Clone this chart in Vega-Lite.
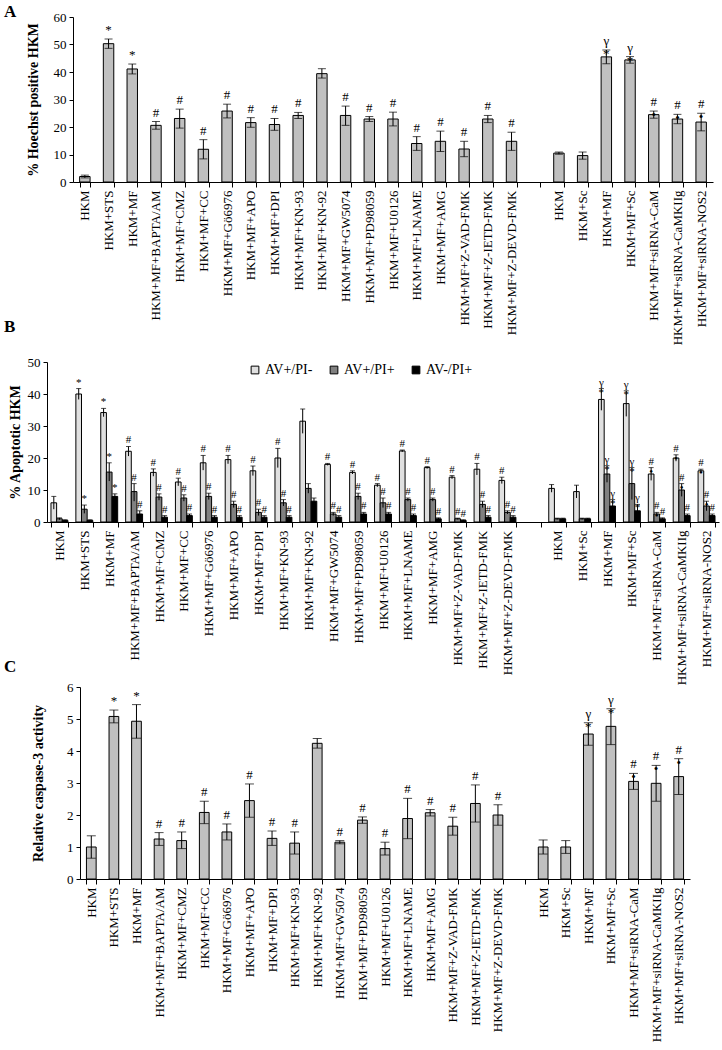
{
  "$schema": "https://vega.github.io/schema/vega-lite/v6.json",
  "padding": {"left": 3, "top": 3, "right": 2, "bottom": 2},
  "background": "white",
  "config": {
    "font": "Liberation Serif",
    "view": {"stroke": null},
    "axis": {"labelFont": "Liberation Serif", "titleFont": "Liberation Serif", "domainColor": "black", "tickColor": "black", "labelColor": "black", "titleColor": "black", "grid": false},
    "axisX": {"labelAngle": 270, "labelFontSize": 13, "tickBand": "extent", "tickSize": 5, "title": null, "labelPadding": 3, "labelOverlap": false},
    "axisY": {"labelFontSize": 13, "tickSize": 4, "titleFontSize": 14, "titleFontWeight": "bold", "labelPadding": 3, "labelOverlap": false},
    "title": {"font": "Liberation Serif", "fontSize": 17, "fontWeight": "bold", "anchor": "start", "frame": "group", "color": "black"}
  },
  "datasets": {
    "a": [
      {"c": "HKM", "v": 2, "lo": 1.5, "hi": 2.5, "s": ""},
      {"c": "HKM+STS", "v": 50.3, "lo": 48.6, "hi": 52.0, "s": "*"},
      {"c": "HKM+MF", "v": 41.1, "lo": 39.3, "hi": 42.9, "s": "*"},
      {"c": "HKM+MF+BAPTA/AM", "v": 20.6, "lo": 19.2, "hi": 22.0, "s": "#"},
      {"c": "HKM+MF+CMZ", "v": 23.1, "lo": 19.6, "hi": 26.5, "s": "#"},
      {"c": "HKM+MF+CC", "v": 11.9, "lo": 8.4, "hi": 15.4, "s": "#"},
      {"c": "HKM+MF+Gö6976", "v": 25.8, "lo": 23.3, "hi": 28.3, "s": "#"},
      {"c": "HKM+MF+APO", "v": 21.6, "lo": 19.9, "hi": 23.4, "s": "#"},
      {"c": "HKM+MF+DPI", "v": 20.9, "lo": 18.8, "hi": 23.1, "s": "#"},
      {"c": "HKM+MF+KN-93", "v": 24.2, "lo": 23.1, "hi": 25.3, "s": "#"},
      {"c": "HKM+MF+KN-92", "v": 39.4, "lo": 37.8, "hi": 41.2, "s": ""},
      {"c": "HKM+MF+GW5074", "v": 24.2, "lo": 20.6, "hi": 27.6, "s": "#"},
      {"c": "HKM+MF+PD98059", "v": 22.9, "lo": 22.0, "hi": 23.8, "s": "#"},
      {"c": "HKM+MF+U0126", "v": 22.9, "lo": 20.4, "hi": 25.4, "s": "#"},
      {"c": "HKM+MF+LNAME", "v": 14.0, "lo": 11.5, "hi": 16.5, "s": "#"},
      {"c": "HKM+MF+AMG", "v": 14.8, "lo": 11.1, "hi": 18.5, "s": "#"},
      {"c": "HKM+MF+Z-VAD-FMK", "v": 12.0, "lo": 9.2, "hi": 14.8, "s": "#"},
      {"c": "HKM+MF+Z-IETD-FMK", "v": 22.9, "lo": 21.6, "hi": 24.2, "s": "#"},
      {"c": "HKM+MF+Z-DEVD-FMK", "v": 14.8, "lo": 11.5, "hi": 18.1, "s": "#"},
      {"c": "HKM~2", "v": 10.5, "lo": 10.1, "hi": 10.9, "s": ""},
      {"c": "HKM+Sc", "v": 9.6, "lo": 8.3, "hi": 10.9, "s": ""},
      {"c": "HKM+MF~2", "v": 45.5, "lo": 43.0, "hi": 48.0, "s": "γ\n*"},
      {"c": "HKM+MF+Sc", "v": 44.4, "lo": 43.2, "hi": 45.6, "s": "γ\n*"},
      {"c": "HKM+MF+siRNA-CaM", "v": 24.5, "lo": 23.2, "hi": 25.8, "s": "#\n•"},
      {"c": "HKM+MF+siRNA-CaMKIIg", "v": 22.9, "lo": 21.2, "hi": 24.6, "s": "#\n•"},
      {"c": "HKM+MF+siRNA-NOS2", "v": 21.8, "lo": 18.6, "hi": 25.0, "s": "#\n•"}
    ],
    "b": [
      {"c": "HKM", "g": "AV+/PI-", "v": 6, "lo": 4, "hi": 8, "s": ""},
      {"c": "HKM", "g": "AV+/PI+", "v": 1, "lo": 0.7, "hi": 1.3, "s": ""},
      {"c": "HKM", "g": "AV-/PI+", "v": 0.5, "lo": 0.3, "hi": 0.7, "s": ""},
      {"c": "HKM+STS", "g": "AV+/PI-", "v": 40, "lo": 38.3, "hi": 41.7, "s": "*"},
      {"c": "HKM+STS", "g": "AV+/PI+", "v": 4, "lo": 2.7, "hi": 5.3, "s": "*"},
      {"c": "HKM+STS", "g": "AV-/PI+", "v": 0.5, "lo": 0.3, "hi": 0.7, "s": ""},
      {"c": "HKM+MF", "g": "AV+/PI-", "v": 34.2, "lo": 32.9, "hi": 35.5, "s": "*"},
      {"c": "HKM+MF", "g": "AV+/PI+", "v": 15.6, "lo": 12.8, "hi": 18.5, "s": "*"},
      {"c": "HKM+MF", "g": "AV-/PI+", "v": 8, "lo": 7.2, "hi": 8.8, "s": "*"},
      {"c": "HKM+MF+BAPTA/AM", "g": "AV+/PI-", "v": 22.1, "lo": 20.6, "hi": 23.6, "s": "#"},
      {"c": "HKM+MF+BAPTA/AM", "g": "AV+/PI+", "v": 9.5, "lo": 6.5, "hi": 12, "s": "#"},
      {"c": "HKM+MF+BAPTA/AM", "g": "AV-/PI+", "v": 2.5, "lo": 1.5, "hi": 3.5, "s": "#"},
      {"c": "HKM+MF+CMZ", "g": "AV+/PI-", "v": 15.5, "lo": 14.3, "hi": 16.6, "s": "#"},
      {"c": "HKM+MF+CMZ", "g": "AV+/PI+", "v": 7.8, "lo": 6.8, "hi": 8.8, "s": "#"},
      {"c": "HKM+MF+CMZ", "g": "AV-/PI+", "v": 1.5, "lo": 1, "hi": 2, "s": "#"},
      {"c": "HKM+MF+CC", "g": "AV+/PI-", "v": 12.5, "lo": 11.3, "hi": 13.7, "s": "#"},
      {"c": "HKM+MF+CC", "g": "AV+/PI+", "v": 7.5, "lo": 6.5, "hi": 8.5, "s": "#"},
      {"c": "HKM+MF+CC", "g": "AV-/PI+", "v": 2, "lo": 1.5, "hi": 2.5, "s": "#"},
      {"c": "HKM+MF+Gö6976", "g": "AV+/PI-", "v": 18.5, "lo": 16.2, "hi": 20.8, "s": "#"},
      {"c": "HKM+MF+Gö6976", "g": "AV+/PI+", "v": 8, "lo": 7, "hi": 9, "s": "#"},
      {"c": "HKM+MF+Gö6976", "g": "AV-/PI+", "v": 1.5, "lo": 1, "hi": 2, "s": "#"},
      {"c": "HKM+MF+APO", "g": "AV+/PI-", "v": 19.5, "lo": 18.2, "hi": 20.8, "s": "#"},
      {"c": "HKM+MF+APO", "g": "AV+/PI+", "v": 5.5, "lo": 4.5, "hi": 6.5, "s": "#"},
      {"c": "HKM+MF+APO", "g": "AV-/PI+", "v": 1.5, "lo": 1, "hi": 2, "s": "#"},
      {"c": "HKM+MF+DPI", "g": "AV+/PI-", "v": 16, "lo": 14.5, "hi": 17.5, "s": "#"},
      {"c": "HKM+MF+DPI", "g": "AV+/PI+", "v": 3, "lo": 2, "hi": 4, "s": "#"},
      {"c": "HKM+MF+DPI", "g": "AV-/PI+", "v": 1.5, "lo": 1, "hi": 2, "s": "#"},
      {"c": "HKM+MF+KN-93", "g": "AV+/PI-", "v": 20, "lo": 17, "hi": 23, "s": "#"},
      {"c": "HKM+MF+KN-93", "g": "AV+/PI+", "v": 6, "lo": 5, "hi": 7, "s": "#"},
      {"c": "HKM+MF+KN-93", "g": "AV-/PI+", "v": 1.5, "lo": 1, "hi": 2, "s": "#"},
      {"c": "HKM+MF+KN-92", "g": "AV+/PI-", "v": 31.5, "lo": 27.7, "hi": 35.3, "s": ""},
      {"c": "HKM+MF+KN-92", "g": "AV+/PI+", "v": 10.5, "lo": 9, "hi": 12, "s": ""},
      {"c": "HKM+MF+KN-92", "g": "AV-/PI+", "v": 6.5, "lo": 5.5, "hi": 7.5, "s": ""},
      {"c": "HKM+MF+GW5074", "g": "AV+/PI-", "v": 18, "lo": 17.7, "hi": 18.3, "s": "#"},
      {"c": "HKM+MF+GW5074", "g": "AV+/PI+", "v": 2.5, "lo": 2, "hi": 3, "s": "#"},
      {"c": "HKM+MF+GW5074", "g": "AV-/PI+", "v": 1.5, "lo": 1, "hi": 2, "s": "#"},
      {"c": "HKM+MF+PD98059", "g": "AV+/PI-", "v": 15.5, "lo": 15, "hi": 16, "s": "#"},
      {"c": "HKM+MF+PD98059", "g": "AV+/PI+", "v": 8, "lo": 7, "hi": 9, "s": "#"},
      {"c": "HKM+MF+PD98059", "g": "AV-/PI+", "v": 2.5, "lo": 2, "hi": 3, "s": "#"},
      {"c": "HKM+MF+U0126", "g": "AV+/PI-", "v": 11.5, "lo": 11, "hi": 12, "s": "#"},
      {"c": "HKM+MF+U0126", "g": "AV+/PI+", "v": 6, "lo": 4.5, "hi": 7.5, "s": "#"},
      {"c": "HKM+MF+U0126", "g": "AV-/PI+", "v": 2.5, "lo": 2, "hi": 3, "s": "#"},
      {"c": "HKM+MF+LNAME", "g": "AV+/PI-", "v": 22.2, "lo": 21.9, "hi": 22.5, "s": "#"},
      {"c": "HKM+MF+LNAME", "g": "AV+/PI+", "v": 7, "lo": 6.5, "hi": 7.5, "s": "#"},
      {"c": "HKM+MF+LNAME", "g": "AV-/PI+", "v": 2, "lo": 1.5, "hi": 2.5, "s": "#"},
      {"c": "HKM+MF+AMG", "g": "AV+/PI-", "v": 17, "lo": 16.7, "hi": 17.3, "s": "#"},
      {"c": "HKM+MF+AMG", "g": "AV+/PI+", "v": 7, "lo": 6.5, "hi": 7.5, "s": "#"},
      {"c": "HKM+MF+AMG", "g": "AV-/PI+", "v": 1, "lo": 0.7, "hi": 1.3, "s": "#"},
      {"c": "HKM+MF+Z-VAD-FMK", "g": "AV+/PI-", "v": 14, "lo": 13.5, "hi": 14.5, "s": "#"},
      {"c": "HKM+MF+Z-VAD-FMK", "g": "AV+/PI+", "v": 1, "lo": 0.8, "hi": 1.2, "s": "#"},
      {"c": "HKM+MF+Z-VAD-FMK", "g": "AV-/PI+", "v": 0.5, "lo": 0.3, "hi": 0.7, "s": "#"},
      {"c": "HKM+MF+Z-IETD-FMK", "g": "AV+/PI-", "v": 16.5, "lo": 14.7, "hi": 18.3, "s": "#"},
      {"c": "HKM+MF+Z-IETD-FMK", "g": "AV+/PI+", "v": 5.5, "lo": 4.5, "hi": 6.5, "s": "#"},
      {"c": "HKM+MF+Z-IETD-FMK", "g": "AV-/PI+", "v": 1.5, "lo": 1, "hi": 2, "s": "#"},
      {"c": "HKM+MF+Z-DEVD-FMK", "g": "AV+/PI-", "v": 13, "lo": 12, "hi": 14, "s": "#"},
      {"c": "HKM+MF+Z-DEVD-FMK", "g": "AV+/PI+", "v": 3, "lo": 2.5, "hi": 3.5, "s": "#"},
      {"c": "HKM+MF+Z-DEVD-FMK", "g": "AV-/PI+", "v": 1.5, "lo": 1, "hi": 2, "s": "#"},
      {"c": "HKM~2", "g": "AV+/PI-", "v": 10.5, "lo": 9.3, "hi": 11.7, "s": ""},
      {"c": "HKM~2", "g": "AV+/PI+", "v": 1, "lo": 0.8, "hi": 1.2, "s": ""},
      {"c": "HKM~2", "g": "AV-/PI+", "v": 1, "lo": 0.8, "hi": 1.2, "s": ""},
      {"c": "HKM+Sc", "g": "AV+/PI-", "v": 9.5, "lo": 7.5, "hi": 11.5, "s": ""},
      {"c": "HKM+Sc", "g": "AV+/PI+", "v": 1, "lo": 0.8, "hi": 1.2, "s": ""},
      {"c": "HKM+Sc", "g": "AV-/PI+", "v": 1, "lo": 0.8, "hi": 1.2, "s": ""},
      {"c": "HKM+MF~2", "g": "AV+/PI-", "v": 38.3, "lo": 34.9, "hi": 41.7, "s": "γ\n*"},
      {"c": "HKM+MF~2", "g": "AV+/PI+", "v": 15, "lo": 12.4, "hi": 17.6, "s": "γ\n*"},
      {"c": "HKM+MF~2", "g": "AV-/PI+", "v": 5, "lo": 3, "hi": 7, "s": "γ\n*"},
      {"c": "HKM+MF+Sc", "g": "AV+/PI-", "v": 37, "lo": 33, "hi": 41, "s": "γ\n*"},
      {"c": "HKM+MF+Sc", "g": "AV+/PI+", "v": 12, "lo": 7, "hi": 17, "s": "γ\n*"},
      {"c": "HKM+MF+Sc", "g": "AV-/PI+", "v": 3.5, "lo": 2, "hi": 5.5, "s": "γ\n*"},
      {"c": "HKM+MF+siRNA-CaM", "g": "AV+/PI-", "v": 15, "lo": 13, "hi": 17, "s": "#\n•"},
      {"c": "HKM+MF+siRNA-CaM", "g": "AV+/PI+", "v": 2.5, "lo": 2, "hi": 3, "s": "#\n•"},
      {"c": "HKM+MF+siRNA-CaM", "g": "AV-/PI+", "v": 1, "lo": 0.7, "hi": 1.3, "s": "#\n•"},
      {"c": "HKM+MF+siRNA-CaMKIIg", "g": "AV+/PI-", "v": 20, "lo": 19, "hi": 21, "s": "#\n•"},
      {"c": "HKM+MF+siRNA-CaMKIIg", "g": "AV+/PI+", "v": 10, "lo": 8, "hi": 12, "s": "#\n•"},
      {"c": "HKM+MF+siRNA-CaMKIIg", "g": "AV-/PI+", "v": 2, "lo": 1.5, "hi": 2.5, "s": "#\n•"},
      {"c": "HKM+MF+siRNA-NOS2", "g": "AV+/PI-", "v": 16, "lo": 15.5, "hi": 16.5, "s": "#\n•"},
      {"c": "HKM+MF+siRNA-NOS2", "g": "AV+/PI+", "v": 5, "lo": 3.5, "hi": 6.5, "s": "#\n•"},
      {"c": "HKM+MF+siRNA-NOS2", "g": "AV-/PI+", "v": 2, "lo": 1.5, "hi": 2.5, "s": "#\n•"}
    ],
    "c": [
      {"c": "HKM", "v": 1.0, "lo": 0.65, "hi": 1.35, "s": ""},
      {"c": "HKM+STS", "v": 5.08, "lo": 4.88, "hi": 5.28, "s": "*"},
      {"c": "HKM+MF", "v": 4.93, "lo": 4.4, "hi": 5.45, "s": "*"},
      {"c": "HKM+MF+BAPTA/AM", "v": 1.25, "lo": 1.05, "hi": 1.45, "s": "#"},
      {"c": "HKM+MF+CMZ", "v": 1.2, "lo": 0.95, "hi": 1.47, "s": "#"},
      {"c": "HKM+MF+CC", "v": 2.08, "lo": 1.73, "hi": 2.43, "s": "#"},
      {"c": "HKM+MF+Gö6976", "v": 1.47, "lo": 1.22, "hi": 1.72, "s": "#"},
      {"c": "HKM+MF+APO", "v": 2.45, "lo": 1.93, "hi": 2.97, "s": "#"},
      {"c": "HKM+MF+DPI", "v": 1.27, "lo": 1.05, "hi": 1.5, "s": "#"},
      {"c": "HKM+MF+KN-93", "v": 1.12, "lo": 0.78, "hi": 1.47, "s": "#"},
      {"c": "HKM+MF+KN-92", "v": 4.24, "lo": 4.09, "hi": 4.39, "s": ""},
      {"c": "HKM+MF+GW5074", "v": 1.15, "lo": 1.1, "hi": 1.2, "s": "#"},
      {"c": "HKM+MF+PD98059", "v": 1.84, "lo": 1.74, "hi": 1.94, "s": "#"},
      {"c": "HKM+MF+U0126", "v": 0.95, "lo": 0.75, "hi": 1.15, "s": "#"},
      {"c": "HKM+MF+LNAME", "v": 1.89, "lo": 1.26, "hi": 2.52, "s": "#"},
      {"c": "HKM+MF+AMG", "v": 2.07, "lo": 1.97, "hi": 2.17, "s": "#"},
      {"c": "HKM+MF+Z-VAD-FMK", "v": 1.65, "lo": 1.37, "hi": 1.93, "s": "#"},
      {"c": "HKM+MF+Z-IETD-FMK", "v": 2.36, "lo": 1.78, "hi": 2.94, "s": "#"},
      {"c": "HKM+MF+Z-DEVD-FMK", "v": 2.0, "lo": 1.68, "hi": 2.32, "s": "#"},
      {"c": "HKM~2", "v": 1.0, "lo": 0.78, "hi": 1.22, "s": ""},
      {"c": "HKM+Sc", "v": 1.0, "lo": 0.8, "hi": 1.2, "s": ""},
      {"c": "HKM+MF~2", "v": 4.53, "lo": 4.18, "hi": 4.88, "s": "γ\n*"},
      {"c": "HKM+MF+Sc", "v": 4.77, "lo": 4.2, "hi": 5.32, "s": "γ\n*"},
      {"c": "HKM+MF+siRNA-CaM", "v": 3.05, "lo": 2.8, "hi": 3.3, "s": "#\n•"},
      {"c": "HKM+MF+siRNA-CaMKIIg", "v": 2.99, "lo": 2.43, "hi": 3.55, "s": "#\n•"},
      {"c": "HKM+MF+siRNA-NOS2", "v": 3.2, "lo": 2.64, "hi": 3.76, "s": "#\n•"}
    ]
  },
  "columns": 1,
  "spacing": -27,
  "resolve": {"legend": {"color": "independent"}},
  "concat": [
    {
      "spacing": 0,
      "hconcat": [
        {"width": 1, "height": 1, "data": {"values": [{}]}, "mark": {"type": "text", "text": ""}, "encoding": {}},
        {
          "title": {"text": "A", "dx": -69, "offset": -10},
          "width": 640,
          "height": 165,
          "data": {"name": "a"},
          "encoding": {
            "x": {"field": "c", "type": "nominal", "sort": null,
              "scale": {"domain": ["HKM","HKM+STS","HKM+MF","HKM+MF+BAPTA/AM","HKM+MF+CMZ","HKM+MF+CC","HKM+MF+Gö6976","HKM+MF+APO","HKM+MF+DPI","HKM+MF+KN-93","HKM+MF+KN-92","HKM+MF+GW5074","HKM+MF+PD98059","HKM+MF+U0126","HKM+MF+LNAME","HKM+MF+AMG","HKM+MF+Z-VAD-FMK","HKM+MF+Z-IETD-FMK","HKM+MF+Z-DEVD-FMK","gap","HKM~2","HKM+Sc","HKM+MF~2","HKM+MF+Sc","HKM+MF+siRNA-CaM","HKM+MF+siRNA-CaMKIIg","HKM+MF+siRNA-NOS2"], "paddingInner": 0.56, "paddingOuter": 0.28},
              "axis": {"labelExpr": "isValid(datum.value) && datum.value != 'gap' ? replace(datum.value, '~2', '') : ''"}}
          },
          "layer": [
            {"mark": {"type": "bar", "fill": "#c0c0c0", "stroke": "black", "strokeWidth": 1},
             "encoding": {"y": {"field": "v", "type": "quantitative", "title": "% Hoechst positive HKM", "scale": {"domain": [0, 60]}, "axis": {"values": [0,10,20,30,40,50,60], "titlePadding": 13}}}},
            {"mark": {"type": "rule", "color": "black", "strokeWidth": 1},
             "encoding": {"y": {"field": "lo", "type": "quantitative", "title": "% Hoechst positive HKM", "axis": {"values": [0,10,20,30,40,50,60], "titlePadding": 13}}, "y2": {"field": "hi"}}},
            {"mark": {"type": "tick", "color": "black", "size": 8, "thickness": 1},
             "encoding": {"y": {"field": "hi", "type": "quantitative", "title": "% Hoechst positive HKM", "axis": {"values": [0,10,20,30,40,50,60], "titlePadding": 13}}}},
            {"mark": {"type": "tick", "color": "black", "size": 8, "thickness": 1},
             "encoding": {"y": {"field": "lo", "type": "quantitative", "title": "% Hoechst positive HKM", "axis": {"values": [0,10,20,30,40,50,60], "titlePadding": 13}}}},
            {"mark": {"type": "text", "baseline": "bottom", "dy": -2, "fontSize": 13, "lineBreak": "\n", "lineHeight": 13, "color": "black"},
             "encoding": {"y": {"field": "hi", "type": "quantitative", "title": "% Hoechst positive HKM", "axis": {"values": [0,10,20,30,40,50,60], "titlePadding": 13}}, "text": {"field": "s"}}}
          ]
        }
      ]
    },
    {
      "spacing": 0,
      "resolve": {"legend": {"color": "independent"}},
      "hconcat": [
        {"width": 1, "height": 1, "data": {"values": [{}]}, "mark": {"type": "text", "text": ""}, "encoding": {}},
        {
          "title": {"text": "B", "dx": -43, "offset": 20},
          "width": 672,
          "height": 160,
          "data": {"name": "b"},
          "encoding": {
            "x": {"field": "c", "type": "nominal", "sort": null,
              "scale": {"domain": ["HKM","HKM+STS","HKM+MF","HKM+MF+BAPTA/AM","HKM+MF+CMZ","HKM+MF+CC","HKM+MF+Gö6976","HKM+MF+APO","HKM+MF+DPI","HKM+MF+KN-93","HKM+MF+KN-92","HKM+MF+GW5074","HKM+MF+PD98059","HKM+MF+U0126","HKM+MF+LNAME","HKM+MF+AMG","HKM+MF+Z-VAD-FMK","HKM+MF+Z-IETD-FMK","HKM+MF+Z-DEVD-FMK","gap","HKM~2","HKM+Sc","HKM+MF~2","HKM+MF+Sc","HKM+MF+siRNA-CaM","HKM+MF+siRNA-CaMKIIg","HKM+MF+siRNA-NOS2"], "paddingInner": 0.32, "paddingOuter": 0.16},
              "axis": {"labelExpr": "isValid(datum.value) && datum.value != 'gap' ? replace(datum.value, '~2', '') : ''"}},
            "xOffset": {"field": "g", "type": "nominal", "scale": {"domain": ["AV+/PI-", "AV+/PI+", "AV-/PI+"]}}
          },
          "layer": [
            {"mark": {"type": "bar", "stroke": "black", "strokeWidth": 1},
             "encoding": {
               "y": {"field": "v", "type": "quantitative", "title": "% Apoptotic HKM", "scale": {"domain": [0, 50]}, "axis": {"values": [0,10,20,30,40,50], "titlePadding": 5}},
               "color": {"field": "g", "type": "nominal", "scale": {"domain": ["AV+/PI-", "AV+/PI+", "AV-/PI+"], "range": ["#e0e0e0", "#808080", "#000000"]},
                 "legend": {"orient": "none", "legendX": 201, "legendY": 1, "direction": "horizontal", "title": null, "labelFont": "Liberation Serif", "labelFontSize": 14, "labelColor": "black", "symbolType": "square", "symbolSize": 60, "symbolStrokeColor": "black", "symbolStrokeWidth": 1, "columnPadding": 14, "labelOffset": 3}}
             }},
            {"mark": {"type": "rule", "color": "black", "strokeWidth": 1},
             "encoding": {"y": {"field": "lo", "type": "quantitative", "title": "% Apoptotic HKM", "axis": {"values": [0,10,20,30,40,50], "titlePadding": 5}}, "y2": {"field": "hi"}}},
            {"mark": {"type": "tick", "color": "black", "size": 5, "thickness": 1},
             "encoding": {"y": {"field": "hi", "type": "quantitative", "title": "% Apoptotic HKM", "axis": {"values": [0,10,20,30,40,50], "titlePadding": 5}}}},
            {"mark": {"type": "text", "baseline": "bottom", "dy": -1, "fontSize": 11, "lineBreak": "\n", "lineHeight": 10, "color": "black"},
             "encoding": {"y": {"field": "hi", "type": "quantitative", "title": "% Apoptotic HKM", "axis": {"values": [0,10,20,30,40,50], "titlePadding": 5}}, "text": {"field": "s"}}}
          ]
        }
      ]
    },
    {
      "spacing": 0,
      "hconcat": [
        {"width": 1, "height": 1, "data": {"values": [{}]}, "mark": {"type": "text", "text": ""}, "encoding": {}},
        {
          "title": {"text": "C", "dx": -76, "offset": 5},
          "width": 610,
          "height": 192,
          "data": {"name": "c"},
          "encoding": {
            "x": {"field": "c", "type": "nominal", "sort": null,
              "scale": {"domain": ["HKM","HKM+STS","HKM+MF","HKM+MF+BAPTA/AM","HKM+MF+CMZ","HKM+MF+CC","HKM+MF+Gö6976","HKM+MF+APO","HKM+MF+DPI","HKM+MF+KN-93","HKM+MF+KN-92","HKM+MF+GW5074","HKM+MF+PD98059","HKM+MF+U0126","HKM+MF+LNAME","HKM+MF+AMG","HKM+MF+Z-VAD-FMK","HKM+MF+Z-IETD-FMK","HKM+MF+Z-DEVD-FMK","gap","HKM~2","HKM+Sc","HKM+MF~2","HKM+MF+Sc","HKM+MF+siRNA-CaM","HKM+MF+siRNA-CaMKIIg","HKM+MF+siRNA-NOS2"], "paddingInner": 0.57, "paddingOuter": 0.285},
              "axis": {"labelExpr": "isValid(datum.value) && datum.value != 'gap' ? replace(datum.value, '~2', '') : ''"}}
          },
          "layer": [
            {"mark": {"type": "bar", "fill": "#c0c0c0", "stroke": "black", "strokeWidth": 1},
             "encoding": {"y": {"field": "v", "type": "quantitative", "title": "Relative caspase-3 activity", "scale": {"domain": [0, 6]}, "axis": {"values": [0,1,2,3,4,5,6], "titlePadding": 21}}}},
            {"mark": {"type": "rule", "color": "black", "strokeWidth": 1},
             "encoding": {"y": {"field": "lo", "type": "quantitative", "title": "Relative caspase-3 activity", "axis": {"values": [0,1,2,3,4,5,6], "titlePadding": 21}}, "y2": {"field": "hi"}}},
            {"mark": {"type": "tick", "color": "black", "size": 9, "thickness": 1},
             "encoding": {"y": {"field": "hi", "type": "quantitative", "title": "Relative caspase-3 activity", "axis": {"values": [0,1,2,3,4,5,6], "titlePadding": 21}}}},
            {"mark": {"type": "tick", "color": "black", "size": 9, "thickness": 1},
             "encoding": {"y": {"field": "lo", "type": "quantitative", "title": "Relative caspase-3 activity", "axis": {"values": [0,1,2,3,4,5,6], "titlePadding": 21}}}},
            {"mark": {"type": "text", "baseline": "bottom", "dy": -2, "fontSize": 13, "lineBreak": "\n", "lineHeight": 13, "color": "black"},
             "encoding": {"y": {"field": "hi", "type": "quantitative", "title": "Relative caspase-3 activity", "axis": {"values": [0,1,2,3,4,5,6], "titlePadding": 21}}, "text": {"field": "s"}}}
          ]
        }
      ]
    }
  ]
}
